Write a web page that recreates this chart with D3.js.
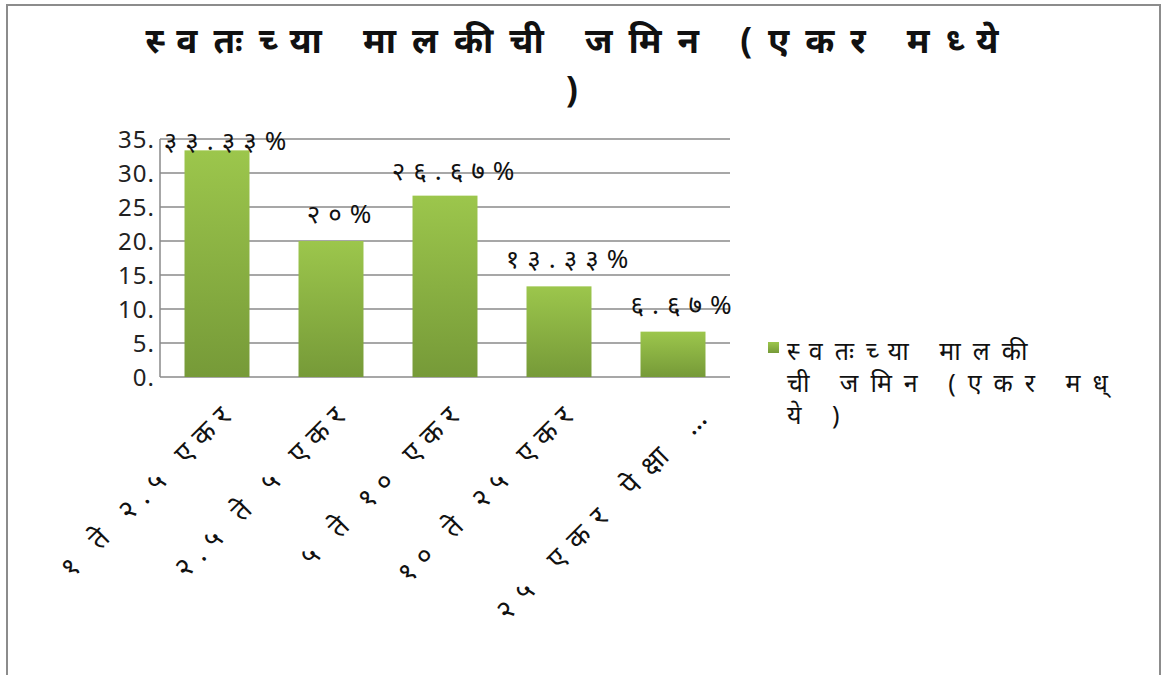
<!DOCTYPE html>
<html>
<head>
<meta charset="utf-8">
<script src="https://cdn.jsdelivr.net/npm/d3@7"></script>
<style>
  html, body { margin: 0; padding: 0; background: #fff; }
  svg text { font-family: "Noto Sans", "Noto Sans Devanagari", "Lohit Devanagari", "DejaVu Sans", sans-serif; }
</style>
</head>
<body>
<svg id="chart" width="1166" height="675"></svg>
<script>
// ---- data ----
const categories = ["१ ते २.५ एकर", "२.५ ते ५ एकर", "५ ते १० एकर", "१० ते २५ एकर", "२५ एकर पेक्षा …"];
const values = [33.33, 20, 26.67, 13.33, 6.67];
const valueLabels = ["३३.३३%", "२०%", "२६.६७%", "१३.३३%", "६.६७%"];
const yTicks = [0, 5, 10, 15, 20, 25, 30, 35];
const yTickLabels = ["0.", "5.", "10.", "15.", "20.", "25.", "30.", "35."];
const titleLines = ["स्वतःच्या मालकीची जमिन (एकर मध्ये", ")"];
const seriesName = ["स्वतःच्या मालकी", "ची जमिन (एकर मध्", "ये )"];

const svg = d3.select("#chart");

// border
svg.append("path")
  .attr("d", "M7,676 L7,5 L1160,5 L1160,676")
  .attr("fill", "none").attr("stroke", "#8c8c8c").attr("stroke-width", 2);

const x = d3.scaleBand().domain(categories).range([160, 730]).paddingInner(0.43).paddingOuter(0.215);
const y = d3.scaleLinear().domain([0, 35]).range([377, 139]);

// gradient
const defs = svg.append("defs");
const grad = defs.append("linearGradient").attr("id", "barGrad")
  .attr("x1", 0).attr("y1", 0).attr("x2", 0).attr("y2", 1);
grad.append("stop").attr("offset", "0%").attr("stop-color", "#9cc64c");
grad.append("stop").attr("offset", "100%").attr("stop-color", "#769a38");

// gridlines
svg.append("g").selectAll("line").data(yTicks).join("line")
  .attr("x1", 160).attr("x2", 730)
  .attr("y1", d => y(d)).attr("y2", d => y(d))
  .attr("stroke", "#8a8a8a").attr("stroke-width", 1.5);

// y axis line
svg.append("line").attr("x1", 160).attr("x2", 160).attr("y1", y(35)).attr("y2", y(0))
  .attr("stroke", "#8a8a8a").attr("stroke-width", 1.5);

// y tick labels
svg.append("g").selectAll("text").data(yTicks).join("text")
  .attr("x", 155).attr("y", d => y(d))
  .attr("dy", "0.36em")
  .attr("text-anchor", "end")
  .attr("font-size", 24).attr("fill", "#222")
  .attr("letter-spacing", 1)
  .text((d, i) => yTickLabels[i]);

// bars
svg.append("g").selectAll("rect").data(values).join("rect")
  .attr("x", (d, i) => x(categories[i]))
  .attr("width", x.bandwidth())
  .attr("y", d => y(d))
  .attr("height", d => y(0) - y(d))
  .attr("fill", "url(#barGrad)");

// value labels
const labelOffsets = [0, 18, 16, 18, 18];
svg.append("g").selectAll("text").data(values).join("text")
  .attr("x", (d, i) => x(categories[i]) + x.bandwidth() / 2 + 12)
  .attr("y", (d, i) => y(d) - labelOffsets[i])
  .attr("text-anchor", "middle")
  .attr("font-size", 26).attr("fill", "#111")
  .attr("letter-spacing", 8)
  .text((d, i) => valueLabels[i]);

// x labels rotated
svg.append("g").selectAll("text").data(categories).join("text")
  .attr("transform", (d, i) => `translate(${x(d) + x.bandwidth() / 2 + (i === 4 ? 44 : 22)},${412}) rotate(-45)`)
  .attr("text-anchor", "end")
  .attr("font-size", 28).attr("fill", "#111")
  .attr("letter-spacing", (d, i) => i === 4 ? 12 : 9)
  .text(d => d);

// title (one text element, two lines)
const title = svg.append("text")
  .attr("x", 580).attr("y", 53)
  .attr("text-anchor", "middle")
  .attr("font-size", 35).attr("font-weight", "bold").attr("fill", "#111")
  .attr("letter-spacing", 16);
title.selectAll("tspan").data(titleLines).join("tspan")
  .attr("x", 580).attr("y", (d, i) => 53 + i * 49)
  .text(d => d);

// legend
svg.append("rect").attr("x", 768).attr("y", 342).attr("width", 11).attr("height", 11)
  .attr("fill", "url(#barGrad)");
const legendText = svg.append("text")
  .attr("x", 787).attr("y", 360)
  .attr("font-size", 25).attr("fill", "#111")
  .attr("letter-spacing", 12);
legendText.selectAll("tspan").data(seriesName).join("tspan")
  .attr("x", 787).attr("y", (d, i) => 360 + i * 32)
  .text(d => d);
</script>
</body>
</html>
